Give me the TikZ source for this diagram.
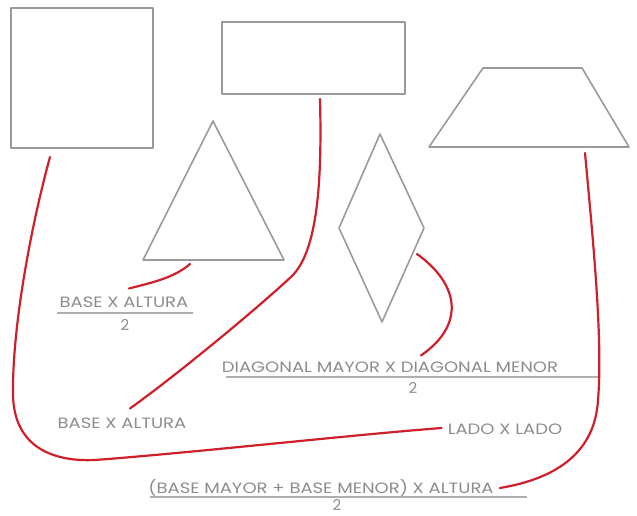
\documentclass[tikz,border=0pt]{standalone}
\usepackage{fontspec}
\setsansfont{Poppins}
\usepackage{xcolor}
\usepackage{graphicx}
\usepackage{tikz}
\definecolor{shapegray}{HTML}{9A9A9A}
\definecolor{textgray}{HTML}{8C8C8C}
\definecolor{linkred}{HTML}{CE1F2A}
\newcommand{\ancho}[1]{\scalebox{1.2}[1]{#1}}

\begin{document}
\begin{tikzpicture}[
  x=1pt, y=-1pt,
  figura/.style={draw=shapegray, line width=1.6pt, line join=round},
  formula/.style={inner sep=0pt, text=textgray,
    font=\sffamily\fontsize{15}{15}\selectfont},
  bar/.style={draw=textgray!70, line width=1.4pt},
  link/.style={draw=linkred, line width=2.2pt, line cap=round}
]
\useasboundingbox (0,0) rectangle (637,515);
% figuras
\draw[figura] (11,8) rectangle (153,148);
\draw[figura] (222,22) rectangle (405,94);
\draw[figura] (213,121) -- (284,260) -- (143,260) -- cycle;
\draw[figura] (380,134) -- (424,228) -- (382,322) -- (339,228) -- cycle;
\draw[figura] (483,68) -- (582,68) -- (629,147) -- (429,147) -- cycle;
% puntos de salida
\coordinate (sqOut) at (50,157);
\coordinate (recOut) at (320,99);
\coordinate (triOut) at (190,264);
\coordinate (rhoOut) at (417,254);
\coordinate (traOut) at (585,153);
% formulas
\node[formula] (triF) at (124,302) {\ancho{BASE X ALTURA}};
\node[formula] (triD) at (125,325) {2};
\draw[bar] (57,313) -- (193,313);
\node[formula] (rhoF) at (390,367) {\ancho{DIAGONAL MAYOR X DIAGONAL MENOR}};
\node[formula] (rhoD) at (413,388) {2};
\draw[bar] (226,377) -- (598,377);
\node[formula] (recF) at (122,423) {\ancho{BASE X ALTURA}};
\node[formula] (sqF) at (505,429) {\ancho{LADO X LADO}};
\node[formula] (traF) at (321,488) {\ancho{(BASE MAYOR + BASE MENOR) X ALTURA}};
\node[formula] (traD) at (337,505) {2};
\draw[bar] (150,497) -- (527,497);
% conexiones
\draw[link] (sqOut) .. controls (30,230) and (12,330) .. (13,395)
  .. controls (14,445) and (50,462) .. (95,460)
  .. controls (200,452) and (350,435) .. ([xshift=-6pt,yshift=1pt]sqF.west);
\draw[link] (recOut) .. controls (322,180) and (318,250) .. (292,276)
  .. controls (250,315) and (170,380) .. ([xshift=8pt,yshift=9pt]recF.north);
\draw[link] (triOut) .. controls (175,277) and (155,282) .. ([xshift=5pt,yshift=8pt]triF.north);
\draw[link] (rhoOut) .. controls (460,285) and (465,325) .. ([xshift=31pt,yshift=6pt]rhoF.north);
\draw[link] (traOut) .. controls (593,240) and (603,340) .. (598,400)
  .. controls (595,450) and (560,478) .. ([xshift=6pt]traF.east);
\end{tikzpicture}
\end{document}
